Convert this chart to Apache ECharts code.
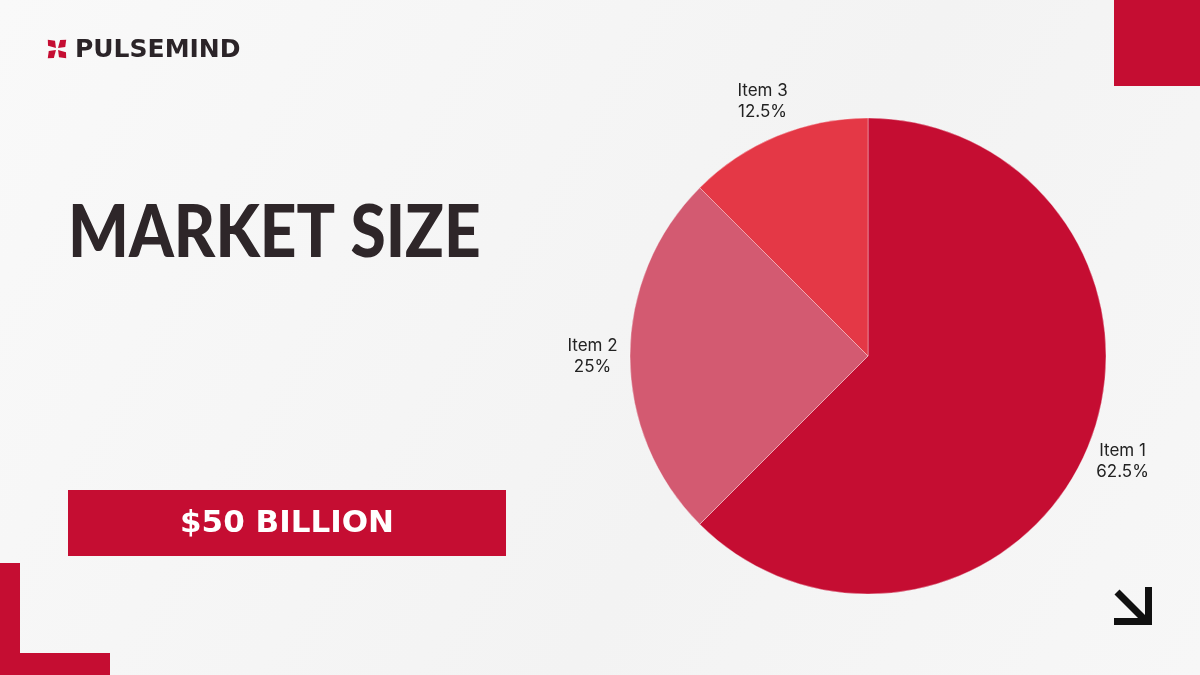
<!DOCTYPE html>
<html>
<head>
<meta charset="utf-8">
<script src="https://cdn.jsdelivr.net/npm/echarts@6/dist/echarts.min.js"></script>
<style>
html,body{margin:0;padding:0;background:#f7f7f7;}
#chart{width:1200px;height:675px;}
</style>
</head>
<body>
<div id="chart"></div>
<script>
const categories = ['Item 1', 'Item 2', 'Item 3'];
const shares = [62.5, 25, 12.5];
const sliceColors = ['#C50D32', '#D35A71', '#E43846'];
const titleText = 'MARKET SIZE';
const brandText = 'PULSEMIND';
const headlineValue = '$50 BILLION';

const chart = echarts.init(document.getElementById('chart'));

const pieData = categories.map((c, i) => ({
  name: c,
  value: shares[i],
  itemStyle: { color: sliceColors[i] }
}));
const labelData = categories.map((c, i) => ({ name: c, value: shares[i] }));

const petal = (cx, cy, ang) => {
  const r = (a, d) => [cx + d * Math.cos(a), cy + d * Math.sin(a)];
  return [r(ang, 1.5), r(ang - 0.45, 9.5), r(ang, 13), r(ang + 0.55, 8.5)];
};
const ic = [57, 49];

option = {
  backgroundColor: {
    type: 'linear', x: 0, y: 0, x2: 1, y2: 1,
    colorStops: [{ offset: 0, color: '#f9f9f9' }, { offset: 0.6, color: '#f3f3f3' }, { offset: 1, color: '#f7f7f7' }]
  },
  animation: false,
  graphic: [
    { type: 'rect', shape: { x: 1114, y: 0, width: 86, height: 86 }, style: { fill: '#C50D32' } },
    { type: 'rect', shape: { x: 0, y: 563, width: 20, height: 112 }, style: { fill: '#C50D32' } },
    { type: 'rect', shape: { x: 0, y: 653, width: 110, height: 22 }, style: { fill: '#C50D32' } },
    { type: 'polygon', shape: { points: petal(ic[0], ic[1], -Math.PI * 3 / 4) }, style: { fill: '#C50D32' } },
    { type: 'polygon', shape: { points: petal(ic[0], ic[1], -Math.PI / 4) }, style: { fill: '#C50D32' } },
    { type: 'polygon', shape: { points: petal(ic[0], ic[1], Math.PI / 4) }, style: { fill: '#C50D32' } },
    { type: 'polygon', shape: { points: petal(ic[0], ic[1], Math.PI * 3 / 4) }, style: { fill: '#C50D32' } },
    { type: 'text', x: 75, y: 50, style: { text: brandText, fill: '#2b2428', font: 'bold 25px "DejaVu Sans", sans-serif', verticalAlign: 'middle' } },
    { type: 'text', x: 68, y: 234, scaleY: 1.12, style: { text: titleText, fill: '#2e2629', font: '900 64px Lato, sans-serif', verticalAlign: 'middle' } },
    { type: 'rect', shape: { x: 68, y: 490, width: 438, height: 66 }, style: { fill: '#C50D32' } },
    { type: 'text', x: 287, y: 524, style: { text: headlineValue, fill: '#ffffff', font: 'bold 31px "DejaVu Sans", sans-serif', align: 'center', verticalAlign: 'middle' } },
    { type: 'polyline', shape: { points: [[1117, 592], [1146, 621]] }, style: { stroke: '#111', lineWidth: 7, fill: null } },
    { type: 'polyline', shape: { points: [[1114, 621.5], [1148.5, 621.5], [1148.5, 587]] }, style: { stroke: '#111', lineWidth: 7, fill: null } }
  ],
  series: [{
    type: 'pie',
    center: [868, 356],
    radius: [0, 238],
    startAngle: 90,
    clockwise: true,
    data: pieData,
    itemStyle: { borderColor: 'rgba(255,255,255,0.35)', borderWidth: 1 },
    label: { show: false },
    labelLine: { show: false },
    emphasis: { disabled: true },
    silent: true
  }, {
    type: 'pie',
    center: [868, 356],
    radius: [238, 307],
    startAngle: 90,
    clockwise: true,
    data: labelData,
    itemStyle: { color: 'rgba(0,0,0,0)' },
    label: {
      show: true,
      position: 'inside',
      formatter: '{b}\n{d}%',
      align: 'center',
      fontSize: 17,
      lineHeight: 21,
      color: '#222',
      fontFamily: 'Inter, sans-serif'
    },
    labelLine: { show: false },
    emphasis: { disabled: true },
    silent: true
  }]
};
chart.setOption(option);
</script>
</body>
</html>
